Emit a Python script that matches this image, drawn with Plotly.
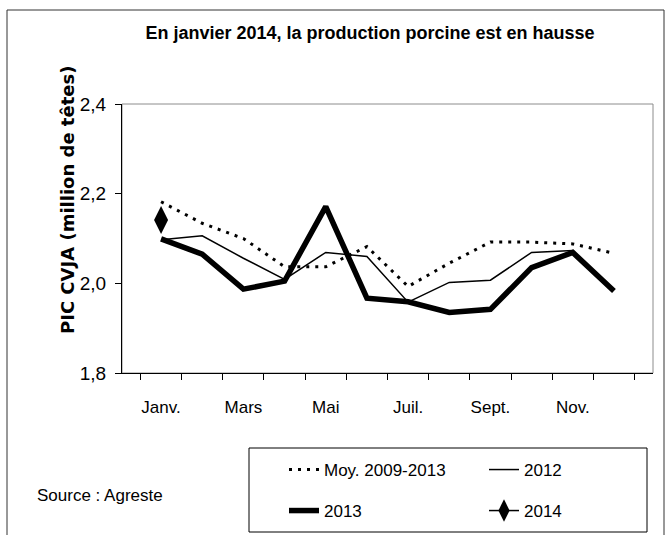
import plotly.graph_objects as go

months = ["Janv.", "Févr.", "Mars", "Avr.", "Mai", "Juin", "Juil.", "Août", "Sept.", "Oct.", "Nov.", "Déc."]
tick_labels = ["Janv.", "", "Mars", "", "Mai", "", "Juil.", "", "Sept.", "", "Nov.", ""]

moy_2009_2013 = [2.182, 2.134, 2.100, 2.037, 2.037, 2.082, 1.993, 2.045, 2.092, 2.092, 2.088, 2.067]
prod_2012 = [2.097, 2.106, 2.056, 2.009, 2.069, 2.060, 1.958, 2.002, 2.007, 2.069, 2.073, 1.985]
prod_2013 = [2.099, 2.065, 1.987, 2.005, 2.171, 1.967, 1.959, 1.935, 1.942, 2.035, 2.069, 1.983]
prod_2014 = [2.141, None, None, None, None, None, None, None, None, None, None, None]

FONT = "Liberation Sans, Arial, sans-serif"

# plot area in pixels
L, R, T, B = 122, 653, 104, 373
W, H = 665, 535
def px(xp):
    return (xp - L) / (R - L)
def py(yp):
    return (B - yp) / (B - T)

fig = go.Figure()
fig.add_trace(go.Scatter(x=months, y=moy_2009_2013, mode="lines", name="Moy. 2009-2013",
                         line=dict(color="black", width=3, dash="3px,6px"), legend="legend"))
fig.add_trace(go.Scatter(x=months, y=prod_2012, mode="lines", name="2012",
                         line=dict(color="black", width=1.5), legend="legend2"))
fig.add_trace(go.Scatter(x=months, y=prod_2013, mode="lines", name="2013",
                         line=dict(color="black", width=5.5), legend="legend3"))
fig.add_trace(go.Scatter(x=months, y=prod_2014, mode="lines+markers", name="2014",
                         line=dict(color="black", width=1.5),
                         marker=dict(symbol="diamond-tall", size=20, color="black"), legend="legend4"))

def leg(x_text, y_row):
    return dict(orientation="h", x=px(x_text - 40), xanchor="left", y=py(y_row), yanchor="middle",
                bgcolor="rgba(0,0,0,0)", borderwidth=0,
                font=dict(family=FONT, size=17, color="black"))

fig.update_layout(
    width=W, height=H,
    margin=dict(l=L, r=W - R, t=T, b=H - B, autoexpand=False),
    paper_bgcolor="white", plot_bgcolor="white",
    separators=", ",
    showlegend=True,
    title=dict(text="En janvier 2014, la production porcine est en hausse",
               x=370 / W, xanchor="center", xref="container",
               y=1 - 33 / H, yanchor="middle", yref="container", automargin=False,
               font=dict(family=FONT, size=18, color="black", weight="bold")),
    font=dict(family=FONT, size=17, color="black"),
    xaxis=dict(type="category", categoryorder="array", categoryarray=months,
               tickmode="array", tickvals=months, ticktext=tick_labels, tickangle=0,
               tickson="boundaries", ticks="outside", ticklen=6, tickcolor="black",
               showline=True, linecolor="black", linewidth=1, showgrid=False,
               zeroline=False, ticklabelstandoff=19, automargin=False,
               tickfont=dict(family=FONT, size=17, color="black")),
    yaxis=dict(range=[1.8, 2.4], dtick=0.2, tickformat=".1f",
               ticks="outside", ticklen=6, tickcolor="black",
               showline=True, linecolor="black", linewidth=1, showgrid=False,
               zeroline=False, ticklabelstandoff=5, automargin=False,
               tickfont=dict(family=FONT, size=19, color="black")),
    legend=leg(324, 470),
    legend2=leg(524, 470),
    legend3=leg(324, 511),
    legend4=leg(524, 511),
    shapes=[
        # gray plot frame (top/right)
        dict(type="rect", xref="x domain", yref="y domain", x0=0, x1=1, y0=0, y1=1,
             line=dict(color="#8c8c8c", width=1), layer="below"),
        # legend box
        dict(type="rect", xref="paper", yref="paper", x0=px(249), x1=px(647), y0=py(448), y1=py(532),
             line=dict(color="black", width=1)),
        # outer frame
        dict(type="rect", xref="paper", yref="paper", x0=px(7), x1=px(664), y0=py(10), y1=py(545),
             line=dict(color="#333333", width=1)),
    ],
    annotations=[
        dict(text="PIC CVJA (million de têtes)", xref="paper", yref="paper", x=px(67), y=py(200),
             xanchor="center", yanchor="middle", textangle=-90, showarrow=False,
             font=dict(family="DejaVu Sans, Arial, sans-serif", size=18, color="black", weight="bold")),
        dict(text="Source : Agreste", xref="paper", yref="paper", x=px(35), y=py(495),
             xanchor="left", yanchor="middle", showarrow=False,
             font=dict(family=FONT, size=17, color="black")),
    ],
)

fig.write_html("out.html", config={"displayModeBar": False},
               post_script="document.body.style.margin='0px';")
